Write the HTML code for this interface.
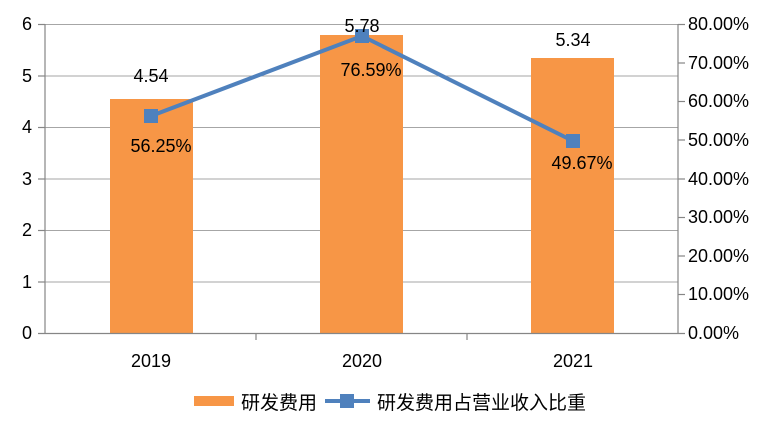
<!DOCTYPE html><html><head><meta charset="utf-8"><style>body{margin:0;background:#fff}</style></head><body>
<svg width="781" height="426" xmlns="http://www.w3.org/2000/svg" font-family="Liberation Sans, Noto Sans CJK SC, sans-serif">
<g stroke="#a6a6a6" stroke-width="1">
<line x1="45" y1="24.5" x2="678" y2="24.5"/><line x1="45" y1="76" x2="678" y2="76"/><line x1="45" y1="127.5" x2="678" y2="127.5"/><line x1="45" y1="179" x2="678" y2="179"/><line x1="45" y1="230.5" x2="678" y2="230.5"/><line x1="45" y1="282" x2="678" y2="282"/>
</g>
<g fill="#f79646"><rect x="110" y="99" width="83" height="234"/><rect x="320" y="35" width="83" height="298"/><rect x="531" y="58" width="83" height="275"/></g>
<g stroke="#868686" stroke-width="1.2">
<line x1="45" y1="24" x2="45" y2="333"/><line x1="38" y1="333.5" x2="685" y2="333.5"/><line x1="678" y1="24" x2="678" y2="333"/>
<line x1="38" y1="24.5" x2="45" y2="24.5"/><line x1="38" y1="76" x2="45" y2="76"/><line x1="38" y1="127.5" x2="45" y2="127.5"/><line x1="38" y1="179" x2="45" y2="179"/><line x1="38" y1="230.5" x2="45" y2="230.5"/><line x1="38" y1="282" x2="45" y2="282"/>
<line x1="678" y1="24.5" x2="685" y2="24.5"/><line x1="678" y1="63" x2="685" y2="63"/><line x1="678" y1="101.5" x2="685" y2="101.5"/><line x1="678" y1="140" x2="685" y2="140"/><line x1="678" y1="179" x2="685" y2="179"/><line x1="678" y1="217.5" x2="685" y2="217.5"/><line x1="678" y1="256" x2="685" y2="256"/><line x1="678" y1="294.5" x2="685" y2="294.5"/>
<line x1="256" y1="333" x2="256" y2="340"/><line x1="467" y1="333" x2="467" y2="340"/>
</g>
<polyline points="151,116 362,36 573,141" fill="none" stroke="#4f81bd" stroke-width="4"/>
<g fill="#4f81bd"><rect x="144" y="109" width="14" height="14"/><rect x="355" y="29" width="14" height="14"/><rect x="566" y="134" width="14" height="14"/></g>
<g font-size="18" fill="#000" text-anchor="end">
<text x="32" y="30">6</text><text x="32" y="82">5</text><text x="32" y="133">4</text><text x="32" y="185">3</text><text x="32" y="236">2</text><text x="32" y="288">1</text><text x="32" y="339">0</text></g>
<g font-size="18" fill="#000">
<text x="688" y="30">80.00%</text><text x="688" y="69">70.00%</text><text x="688" y="107">60.00%</text><text x="688" y="146">50.00%</text><text x="688" y="185">40.00%</text><text x="688" y="223">30.00%</text><text x="688" y="262">20.00%</text><text x="688" y="300">10.00%</text><text x="688" y="339">0.00%</text></g>
<g font-size="18" fill="#000" text-anchor="middle">
<text x="151" y="367">2019</text><text x="362" y="367">2020</text><text x="573" y="367">2021</text>
<text x="151" y="82">4.54</text><text x="362" y="32">5.78</text><text x="573" y="46">5.34</text>
<text x="161" y="152">56.25%</text><text x="371" y="76">76.59%</text><text x="582" y="169">49.67%</text></g>
<rect x="194" y="396" width="40" height="10" fill="#f79646"/>
<text x="241" y="409" font-size="19">研发费用</text>
<line x1="325" y1="401" x2="370" y2="401" stroke="#4f81bd" stroke-width="4"/>
<rect x="340" y="394" width="14" height="14" fill="#4f81bd"/>
<text x="377" y="409" font-size="19">研发费用占营业收入比重</text>
</svg></body></html>
